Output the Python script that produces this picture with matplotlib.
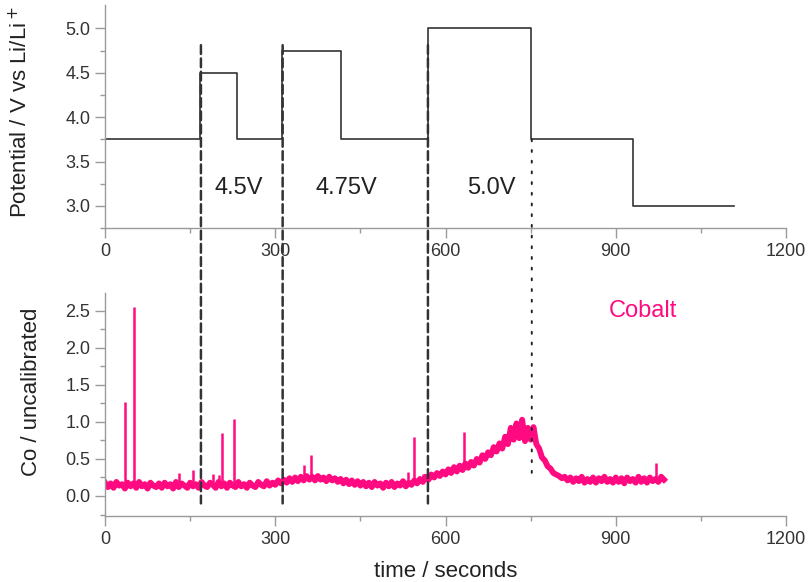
import numpy as np
import matplotlib
matplotlib.use('Agg')
import matplotlib.pyplot as plt
from matplotlib.patches import ConnectionPatch

plt.rcParams['font.family'] = ['Liberation Sans', 'DejaVu Sans']

# ── data ──
pot_t = [0, 168, 233, 312, 415, 570, 751, 931, 1109]
pot_v = [3.75, 4.5, 3.75, 4.75, 3.75, 5.0, 3.75, 3.0, 3.0]

co_step = 5  # seconds between samples
co_vals = [
    0.18, 0.12, 0.17, 0.11, 0.19, 0.14, 0.16, 0.10, 0.18, 0.13,
    0.17, 0.11, 0.19, 0.13, 0.16, 0.10, 0.18, 0.14, 0.12, 0.17,
    0.11, 0.18, 0.13, 0.16, 0.10, 0.19, 0.12, 0.17, 0.14, 0.11,
    0.18, 0.13, 0.16, 0.11, 0.19, 0.14, 0.12, 0.18, 0.15, 0.11,
    0.19, 0.13, 0.17, 0.11, 0.18, 0.14, 0.12, 0.19, 0.13, 0.16,
    0.11, 0.18, 0.14, 0.12, 0.19, 0.15, 0.13, 0.20, 0.14, 0.18,
    0.15, 0.21, 0.17, 0.22, 0.18, 0.24, 0.19, 0.25, 0.20, 0.26,
    0.21, 0.27, 0.22, 0.26, 0.21, 0.27, 0.22, 0.25, 0.20, 0.26,
    0.21, 0.24, 0.19, 0.23, 0.17, 0.22, 0.16, 0.21, 0.15, 0.20,
    0.14, 0.19, 0.13, 0.18, 0.12, 0.19, 0.14, 0.17, 0.11, 0.18,
    0.13, 0.19, 0.12, 0.17, 0.14, 0.20, 0.13, 0.18, 0.15, 0.21,
    0.17, 0.23, 0.19, 0.26, 0.22, 0.29, 0.25, 0.31, 0.27, 0.33,
    0.29, 0.36, 0.31, 0.39, 0.33, 0.41, 0.35, 0.44, 0.38, 0.46,
    0.41, 0.50, 0.45, 0.55, 0.50, 0.59, 0.55, 0.66, 0.60, 0.71,
    0.64, 0.80, 0.70, 0.92, 0.76, 0.98, 0.78, 1.03, 0.74, 0.92,
    0.76, 0.93, 0.70, 0.64, 0.52, 0.48, 0.40, 0.37, 0.31, 0.29,
    0.27, 0.24, 0.26, 0.21, 0.25, 0.19, 0.24, 0.20, 0.26, 0.18,
    0.23, 0.19, 0.25, 0.18, 0.24, 0.20, 0.26, 0.19, 0.23, 0.18,
    0.25, 0.19, 0.24, 0.17, 0.25, 0.20, 0.23, 0.18, 0.26, 0.19,
    0.24, 0.18, 0.25, 0.20, 0.23, 0.19, 0.26, 0.22,
]
co_t = np.arange(len(co_vals)) * co_step

spike_t = [35, 51, 131, 155, 191, 201, 206, 228, 351, 363, 533, 545, 561, 632, 971]
spike_base = [0.15, 0.15, 0.15, 0.15, 0.16, 0.16, 0.16, 0.15, 0.22, 0.23, 0.17, 0.18, 0.22, 0.38, 0.22]
spike_peak = [1.27, 2.55, 0.31, 0.35, 0.30, 0.28, 0.85, 1.04, 0.42, 0.55, 0.32, 0.80, 0.30, 0.87, 0.45]

dash_t = [169, 313, 569]
dot_t = 752
step_labels = ['4.5V', '4.75V', '5.0V']
step_label_t = [235, 426, 681]

PINK = '#ff0a80'
GREY = '#9a9a9a'

fig = plt.figure(figsize=(8.11, 5.82), dpi=100)
ax1 = fig.add_axes([0.1295, 0.608, 0.8397, 0.383])
ax2 = fig.add_axes([0.1295, 0.1134, 0.8397, 0.3832])

# top: potential steps
ax1.step(pot_t, pot_v, where='post', color='#333333', lw=1.2)
ax1.set_xlim(0, 1200)
ax1.set_ylim(2.75, 5.26)
ax1.set_yticks([3.0, 3.5, 4.0, 4.5, 5.0])
ax1.set_yticks([2.75, 3.25, 3.75, 4.25, 4.75], minor=True)
for lab, t in zip(step_labels, step_label_t):
    ax1.text(t, 3.2, lab, ha='center', va='center', fontsize=17, color='#222222')
ax1.set_ylabel('Potential / V vs Li/Li$^+$', fontsize=16, color='#222222')
ax1.yaxis.set_label_coords(-0.107, 0.52)

# bottom: cobalt signal
ax2.plot(co_t, co_vals, color=PINK, lw=4.2, solid_joinstyle='round')
ax2.vlines(spike_t, spike_base, spike_peak, color=PINK, lw=1.8)
ax2.set_xlim(0, 1200)
ax2.set_ylim(-0.27, 2.74)
ax2.set_yticks([0.0, 0.5, 1.0, 1.5, 2.0, 2.5])
ax2.set_yticks([-0.25, 0.25, 0.75, 1.25, 1.75, 2.25], minor=True)
ax2.text(947, 2.5, 'Cobalt', ha='center', va='center', fontsize=17, color=PINK)
ax2.set_ylabel('Co / uncalibrated', fontsize=16, color='#222222')
ax2.yaxis.set_label_coords(-0.093, 0.556)
ax2.set_xlabel('time / seconds', fontsize=16, color='#222222')
ax2.xaxis.set_label_coords(0.5, -0.2)

for ax in (ax1, ax2):
    ax.set_xticks([0, 300, 600, 900, 1200])
    ax.set_xticks([150, 450, 750, 1050], minor=True)
    for s in ('top', 'right'):
        ax.spines[s].set_visible(False)
    for s in ('left', 'bottom'):
        ax.spines[s].set_color(GREY)
        ax.spines[s].set_linewidth(1.0)
    ax.tick_params(which='major', length=7, width=1, color=GREY,
                   labelsize=13, labelcolor='#333333')
    ax.tick_params(which='minor', length=3.5, width=1, color=GREY)

# guide lines spanning both panels
for t in dash_t:
    cp = ConnectionPatch((t, 4.81), (t, -0.1), coordsA='data', coordsB='data',
                         axesA=ax1, axesB=ax2, color='#333333', lw=1.8,
                         linestyle=(0, (3.5, 1.8)))
    fig.add_artist(cp)
cp = ConnectionPatch((dot_t, 3.75), (dot_t, 0.31), coordsA='data', coordsB='data',
                     axesA=ax1, axesB=ax2, color='#222222', lw=1.4,
                     linestyle=(0, (1, 4.5)))
fig.add_artist(cp)

plt.savefig('out.png', dpi=100)
plt.close()
